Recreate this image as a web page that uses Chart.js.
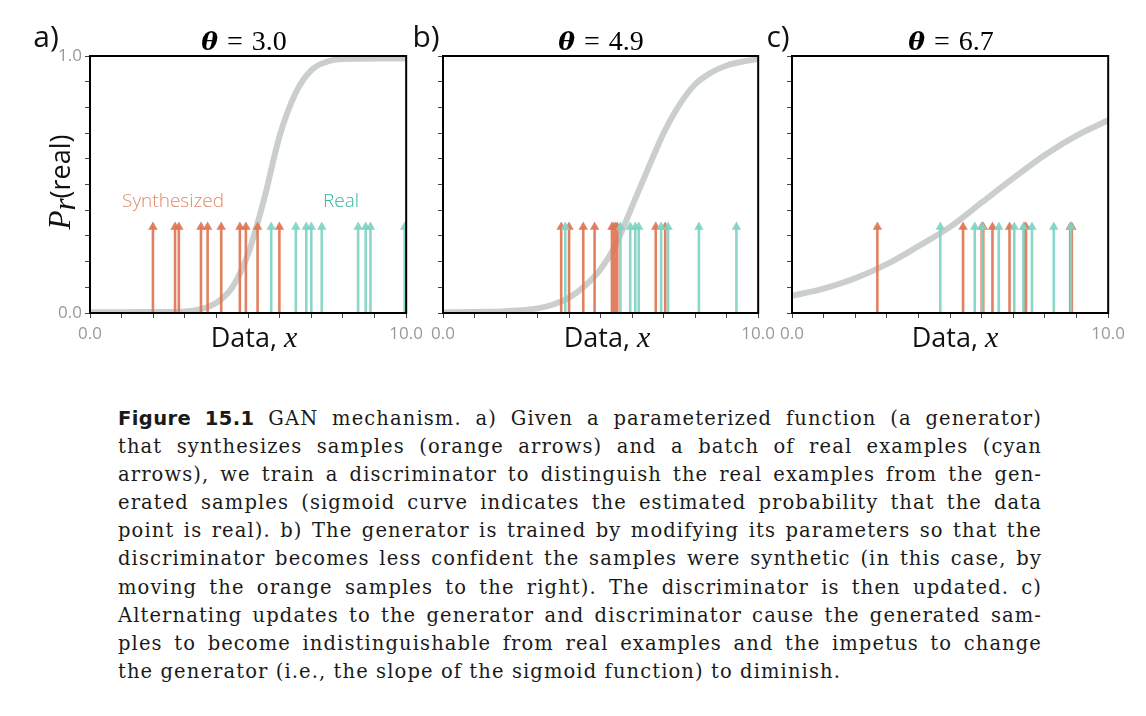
<!DOCTYPE html>
<html>
<head>
<meta charset="utf-8">
<script src="https://cdn.jsdelivr.net/npm/chart.js@4.4.0/dist/chart.umd.min.js"></script>
<style>
body { margin: 0; background: #fff; }
#page { position: relative; width: 1146px; height: 716px; overflow: hidden; font-family: "Open Sans", sans-serif; }
canvas { position: absolute; }
.lbl { position: absolute; white-space: nowrap; line-height: 1; transform: translate(-50%, -50%); }
.panel { font-size: 30px; color: #111; }
.title { font-family: "Liberation Serif", serif; font-size: 28px; }
.title b { font-family: "DejaVu Serif", serif; font-style: italic; font-size: 25px; margin-right: 9px; }
.title span { margin-right: 9px; }
.xtitle { font-size: 27px; color: #111; }
.xtitle i { font-family: "Liberation Serif", serif; font-size: 30px; }
.ytitle { font-size: 27px; color: #111; transform: translate(-50%, -50%) rotate(-90deg); }
.ytitle i { font-family: "Liberation Serif", serif; font-size: 31px; }
.ytitle sub { font-size: 22px; vertical-align: -5px; }
.legend { font-size: 19px; font-weight: 300; }
#caption { position: absolute; left: 118px; top: 405px; width: 924px; font-family: "DejaVu Serif", serif; font-size: 19.5px; letter-spacing: 1.1px; line-height: 28.1px; color: #1a1a1a; }
#caption div { text-align: justify; text-align-last: justify; white-space: nowrap; }
#caption div.last { text-align-last: left; }
#caption .fig { font-family: "DejaVu Sans", sans-serif; font-weight: bold; font-size: 19.5px; letter-spacing: 0.4px; }
</style>
</head>
<body>
<div id="page">
  <canvas id="chartA" width="389" height="320" style="left:40px;top:40px"></canvas>
  <canvas id="chartB" width="388" height="320" style="left:393px;top:40px"></canvas>
  <canvas id="chartC" width="389" height="320" style="left:742px;top:40px"></canvas>

  <div class="lbl panel" style="left:46px;top:36px">a)</div>
  <div class="lbl panel" style="left:426px;top:36px">b)</div>
  <div class="lbl panel" style="left:778px;top:36px">c)</div>

  <div class="lbl title" style="left:244px;top:41px"><b>θ</b><span>=</span>3.0</div>
  <div class="lbl title" style="left:601px;top:41px"><b>θ</b><span>=</span>4.9</div>
  <div class="lbl title" style="left:951px;top:41px"><b>θ</b><span>=</span>6.7</div>

  <div class="lbl xtitle" style="left:254px;top:337px">Data, <i>x</i></div>
  <div class="lbl xtitle" style="left:607px;top:337px">Data, <i>x</i></div>
  <div class="lbl xtitle" style="left:955px;top:337px">Data, <i>x</i></div>

  <div class="lbl ytitle" style="left:62px;top:182px"><i>P</i><sub><i>r</i></sub>(real)</div>

  <div class="lbl legend" style="left:173px;top:200px;color:#e0886a">Synthesized</div>
  <div class="lbl legend" style="left:341px;top:200px;color:#35b3a3">Real</div>

  <div id="caption">
    <div><span class="fig">Figure 15.1</span> GAN mechanism. a) Given a parameterized function (a generator)</div>
    <div>that synthesizes samples (orange arrows) and a batch of real examples (cyan</div>
    <div>arrows), we train a discriminator to distinguish the real examples from the gen-</div>
    <div>erated samples (sigmoid curve indicates the estimated probability that the data</div>
    <div>point is real). b) The generator is trained by modifying its parameters so that the</div>
    <div>discriminator becomes less confident the samples were synthetic (in this case, by</div>
    <div>moving the orange samples to the right). The discriminator is then updated. c)</div>
    <div>Alternating updates to the generator and discriminator cause the generated sam-</div>
    <div>ples to become indistinguishable from real examples and the impetus to change</div>
    <div class="last">the generator (i.e., the slope of the sigmoid function) to diminish.</div>
  </div>
</div>
<script>
// sigmoid curves
const curveXA = [0, 1, 2, 3, 3.5, 4, 4.5, 5, 5.5, 6, 6.5, 7, 7.5, 8, 9, 10];
const curveYA = [0.003, 0.003, 0.004, 0.006, 0.015, 0.04, 0.10, 0.23, 0.44, 0.69, 0.855, 0.945, 0.978, 0.988, 0.99, 0.99];
const curveXB = [0, 1, 2, 3, 3.5, 4, 4.5, 5, 5.5, 6, 6.5, 7, 7.5, 8, 8.5, 9, 9.5, 10];
const curveYB = [0.003, 0.004, 0.007, 0.018, 0.033, 0.06, 0.105, 0.17, 0.27, 0.415, 0.56, 0.70, 0.81, 0.89, 0.935, 0.963, 0.978, 0.988];
const curveXC = [0, 1, 2, 3, 4, 5, 6, 7, 8, 9, 10];
const curveYC = [0.067, 0.095, 0.135, 0.19, 0.26, 0.335, 0.43, 0.525, 0.615, 0.69, 0.75];

// arrow positions (synthesized = orange, real = cyan)
const synthA = [1.99, 2.69, 2.81, 3.51, 3.72, 4.15, 4.74, 4.93, 5.30, 5.99];
const realA = [5.73, 6.51, 6.84, 7.00, 7.33, 8.48, 8.72, 8.87, 9.95];
const synthB = [3.75, 4.00, 4.45, 4.81, 5.36, 5.42, 5.48, 5.53, 6.75, 7.05];
const realB = [3.88, 5.63, 5.94, 6.10, 6.21, 6.92, 7.14, 8.12, 9.31];
const synthC = [2.70, 5.41, 6.00, 6.05, 6.34, 6.88, 7.36, 7.40, 8.80, 8.85];
const realC = [4.69, 5.78, 6.02, 6.54, 7.03, 7.32, 7.59, 8.28, 8.82];

const xTickLabels = { 0: "0.0", 10: "10.0" };
const yTickLabels = { 0: "0.0", 10: "1.0" };
const ARROW_TOP = 0.335;

const orange = "rgba(224,118,84,0.92)";
const cyan = "rgba(128,212,198,0.92)";
const grey = "rgba(196,201,200,0.9)";

function arrowPoints(xs) {
    const pts = [];
    xs.forEach(x => {
        pts.push({ x: x, y: 0 }, { x: x, y: ARROW_TOP }, { x: x, y: null });
    });
    return pts;
}

function arrowDataset(xs, color, order) {
    return {
        data: arrowPoints(xs),
        showLine: true,
        borderColor: color,
        borderWidth: 2.6,
        borderCapStyle: "butt",
        pointStyle: "triangle",
        pointBackgroundColor: color,
        pointBorderWidth: 0,
        pointRadius: ctx => (ctx.raw && ctx.raw.y === ARROW_TOP) ? 5.5 : 0,
        spanGaps: false,
        order: order
    };
}

const framePlugin = {
    id: "frame",
    afterDraw(chart) {
        const a = chart.chartArea;
        const c = chart.ctx;
        c.save();
        c.strokeStyle = "#000";
        c.lineWidth = 2;
        c.strokeRect(a.left, a.top, a.right - a.left, a.bottom - a.top);
        c.restore();
    }
};

function makeChart(id, curveX, curveY, synth, real, showY) {
    const ctx = document.getElementById(id).getContext("2d");
    return new Chart(ctx, {
        type: "scatter",
        data: {
            datasets: [
                arrowDataset(real, cyan, 0),
                arrowDataset(synth, orange, 1),
                {
                    data: curveX.map((x, i) => ({ x: x, y: curveY[i] })),
                    showLine: true,
                    borderColor: grey,
                    borderWidth: 6,
                    pointRadius: 0,
                    cubicInterpolationMode: "monotone",
                    order: 2
                }
            ]
        },
        options: {
            responsive: false,
            animation: false,
            layout: { padding: { top: 16, right: 20, left: 0, bottom: 0 } },
            plugins: { legend: { display: false }, tooltip: { enabled: false } },
            scales: {
                x: {
                    type: "linear",
                    min: 0,
                    max: 10,
                    offset: false,
                    afterFit: s => { s.height = 47; },
                    grid: { drawOnChartArea: false, drawTicks: true, tickLength: 5, color: "#444" },
                    border: { display: true, color: "#000", width: 2 },
                    ticks: {
                        stepSize: 1,
                        autoSkip: false,
                        maxRotation: 0,
                        padding: 6,
                        color: "#999",
                        font: { family: "Open Sans", size: 17 },
                        callback: v => xTickLabels[Math.round(v * 100) / 100] || ""
                    }
                },
                y: {
                    min: 0,
                    max: 1,
                    afterFit: s => { s.width = 50; },
                    grid: { drawOnChartArea: false, drawTicks: true, tickLength: 5, color: "#444" },
                    border: { display: true, color: "#000", width: 2 },
                    ticks: {
                        stepSize: 0.1,
                        autoSkip: false,
                        padding: 3,
                        color: "#999",
                        font: { family: "Open Sans", size: 17 },
                        callback: v => showY ? (yTickLabels[Math.round(v * 10)] || "") : ""
                    }
                }
            }
        },
        plugins: [framePlugin]
    });
}

makeChart("chartA", curveXA, curveYA, synthA, realA, true);
makeChart("chartB", curveXB, curveYB, synthB, realB, false);
makeChart("chartC", curveXC, curveYC, synthC, realC, false);
</script>
</body>
</html>
